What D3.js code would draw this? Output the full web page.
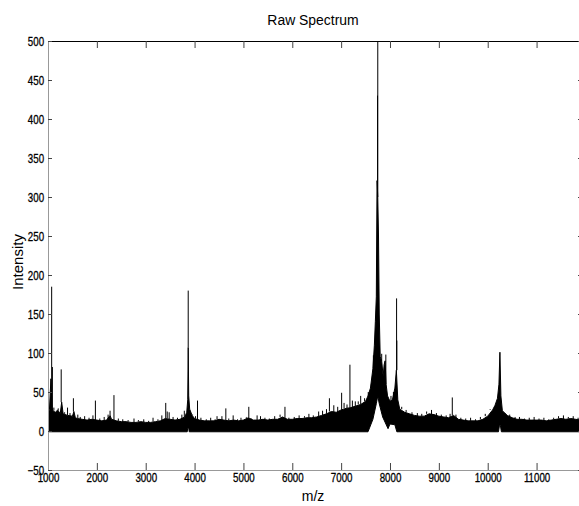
<!DOCTYPE html>
<html>
<head>
<meta charset="utf-8">
<script src="https://cdn.jsdelivr.net/npm/d3@7"></script>
<style>
    body { margin: 0; background: white; }
    svg { display: block; }
</style>
</head>
<body>
<div id="main"></div>
<script>
const ctx = {
    width : 579,
    height : 506,
    plotLeft : 48,
    plotRight : 582,
    plotTop : 41,
    plotBottom : 470,
    font : "'Liberation Sans', Arial, sans-serif",
    tickSquash : 0.78
};

// x and y limits of the axes, and the tick labels
const xDomain = [1000, 11930];
const yDomain = [-50, 500];
const xTicks = [1000, 2000, 3000, 4000, 5000, 6000, 7000, 8000, 9000, 10000, 11000];
const yTicks = [-50, 0, 50, 100, 150, 200, 250, 300, 350, 400, 450, 500];

// upper edge of the dense noise band (m/z, intensity)
const bandTopMz = [1000, 1030, 1060, 1080, 1100, 1150, 1200, 1250, 1280, 1310, 1400, 1500, 1530, 1560, 1600,
    1700, 1800, 1900, 2000, 2100, 2200, 2270, 2300, 2400, 2500, 2600, 2700, 2800, 2900, 3000, 3100, 3200,
    3300, 3400, 3500, 3600, 3700, 3800, 3840, 3860, 3870, 3880, 3900, 3950, 4000, 4100, 4200, 4300, 4400,
    4500, 4600, 4700, 4800, 4900, 5000, 5100, 5200, 5300, 5400, 5500, 5600, 5700, 5800, 5900, 6000, 6100,
    6200, 6300, 6400, 6500, 6600, 6700, 6800, 6900, 7000, 7100, 7200, 7300, 7400, 7500, 7550, 7600, 7650,
    7680, 7700, 7720, 7735, 7750, 7765, 7780, 7800, 7830, 7860, 7880, 7900, 7920, 7950, 8000, 8050, 8100,
    8130, 8160, 8200, 8300, 8400, 8500, 8600, 8700, 8800, 8900, 9000, 9100, 9200, 9300, 9400, 9500, 9600,
    9700, 9800, 9900, 10000, 10100, 10150, 10200, 10230, 10250, 10270, 10300, 10400, 10500, 10600, 10700,
    10800, 10900, 11000, 11100, 11200, 11300, 11400, 11500, 11600, 11700, 11800, 11900, 11950];
const bandTopI = [20, 28, 67, 30, 26, 24, 27, 22, 37, 22, 20, 19, 25, 17, 16,
    15, 14, 15, 14, 13, 14, 20, 15, 13, 12, 12, 11, 11, 12, 11, 11, 12,
    13, 16, 15, 14, 15, 18, 24, 40, 107, 45, 28, 20, 16, 14, 13, 13, 13,
    15, 14, 13, 14, 13, 14, 17, 14, 14, 15, 14, 15, 15, 18, 15, 15, 16,
    16, 17, 17, 18, 20, 22, 25, 24, 27, 29, 30, 32, 34, 38, 45, 55, 80,
    110, 140, 172, 321, 300, 250, 150, 95, 90, 70, 85, 90, 60, 45, 38, 40, 55,
    78, 40, 28, 24, 22, 20, 19, 19, 22, 21, 19, 18, 17, 20, 15, 14, 13,
    13, 13, 15, 19, 27, 33, 42, 60, 101, 45, 26, 20, 17, 15, 15,
    14, 14, 14, 14, 13, 14, 15, 16, 15, 16, 15, 14, 14];

// lower edge of the band, lifted under the big peaks
const bandBottomMz = [1000, 3850, 3860, 3880, 3890, 7550, 7650, 7720, 7750, 7780, 7850, 7960, 8000, 8100,
    8140, 10220, 10240, 10260, 10280, 11950];
const bandBottomI = [-1, -1, 4, 4, -1, -1, 15, 35, 45, 35, 18, 3, 9, 8,
    -1, -1, 7, 7, -1, -1];

// thin spikes standing above the band
const spikeMz = [1050, 1075, 1090, 1180, 1270, 1400, 1520, 1970, 2270, 2350, 3410, 3440, 3870, 4060, 4460,
    4640, 5110, 5280, 5850, 6760, 7010, 7180, 7290, 7440, 7555, 7660, 7745, 7750, 7830, 7915, 8135, 8140,
    9275, 10250];
const spikeI = [60, 185, 82, 27, 79, 30, 42, 39, 26, 46, 36, 25, 180, 39, 19,
    29, 31, 20, 31, 42, 49, 85, 38, 33, 50, 97, 430, 510, 99, 98, 170, 116,
    43, 101];

// short hairs on top of the band that give it its ragged edge
const hairMz = [1120, 1210, 1340, 1450, 1610, 1660, 1750, 1840, 1920, 2060, 2150, 2230, 2440, 2530, 2640,
    2760, 2850, 2960, 3060, 3150, 3250, 3330, 3480, 3560, 3650, 3740, 3790, 3960, 4020, 4130, 4240, 4330,
    4420, 4560, 4700, 4790, 4880, 4950, 5060, 5160, 5350, 5440, 5530, 5640, 5750, 5930, 6040, 6140, 6250,
    6340, 6430, 6540, 6620, 6700, 6850, 6930, 7060, 7120, 7230, 7350, 7400, 7480, 7620, 8020, 8070, 8240,
    8330, 8450, 8560, 8650, 8750, 8850, 8950, 9050, 9150, 9230, 9350, 9450, 9550, 9650, 9750, 9850, 9950,
    10050, 10350, 10450, 10560, 10650, 10750, 10850, 10950, 11050, 11150, 11250, 11350, 11450, 11550,
    11650, 11750, 11850];
const hairI = [30, 29, 24, 23, 21, 18, 19, 17, 20, 16, 18, 21, 16, 15, 14,
    16, 14, 15, 13, 17, 15, 20, 24, 18, 17, 21, 26, 21, 19, 17, 15, 17,
    15, 19, 16, 20, 15, 17, 18, 16, 19, 17, 16, 19, 21, 17, 18, 20, 19,
    22, 20, 25, 26, 28, 33, 31, 36, 34, 39, 38, 45, 42, 60, 45, 50, 31,
    27, 24, 23, 22, 25, 27, 23, 21, 20, 22, 21, 17, 16, 17, 15, 18, 22,
    28, 23, 21, 18, 18, 16, 17, 18, 16, 17, 15, 17, 19, 20,
    18, 19, 17];

function createViz(){
    let svg = d3.select("#main").append("svg")
        .attr("width", ctx.width)
        .attr("height", ctx.height);

    ctx.x = d3.scaleLinear().domain(xDomain).range([ctx.plotLeft, ctx.plotRight]);
    ctx.y = d3.scaleLinear().domain(yDomain).range([ctx.plotBottom, ctx.plotTop]);

    svg.append("defs").append("clipPath").attr("id", "plotClip")
        .append("rect")
        .attr("x", ctx.plotLeft)
        .attr("y", ctx.plotTop)
        .attr("width", ctx.plotRight - ctx.plotLeft)
        .attr("height", ctx.plotBottom - ctx.plotTop);

    drawSpectrum(svg);
    drawAxes(svg);
    drawLabels(svg);
}

// band top value at the nearest sampled m/z, so spikes start from the band, not from 0
function bandBase(mz){
    let i = d3.bisector(d => d).center(bandTopMz, mz);
    return bandTopI[i];
}

function drawSpectrum(svg){
    let g = svg.append("g").attr("clip-path", "url(#plotClip)");
    let top = bandTopMz.map((m, i) => [m, bandTopI[i]]);
    let bottom = bandBottomMz.map((m, i) => [m, bandBottomI[i]]).reverse();
    let line = d3.line().x(d => ctx.x(d[0])).y(d => ctx.y(d[1]));

    g.append("path")
        .attr("d", line(top.concat(bottom)) + "Z")
        .attr("fill", "black")
        .attr("stroke", "black")
        .attr("stroke-width", 1);

    let spikes = spikeMz.map((m, i) => [m, spikeI[i]])
        .concat(hairMz.map((m, i) => [m, hairI[i]]));
    g.selectAll("line.spike")
        .data(spikes)
        .enter()
        .append("line")
        .attr("class", "spike")
        .attr("x1", d => ctx.x(d[0]))
        .attr("x2", d => ctx.x(d[0]))
        .attr("y1", d => ctx.y(Math.min(bandBase(d[0]), d[1])))
        .attr("y2", d => ctx.y(d[1]))
        .attr("stroke", "black")
        .attr("stroke-width", 1);
}

function styleAxis(g, domainColor){
    g.select(".domain").attr("stroke", domainColor);
    g.selectAll(".tick line").attr("stroke", "#444");
    g.selectAll(".tick text")
        .attr("fill", "black")
        .attr("stroke", "black")
        .attr("stroke-width", 0.3)
        .attr("transform", "scale(" + ctx.tickSquash + ",1)")
        .style("font-family", ctx.font)
        .style("font-size", "12.5px");
}

function drawAxes(svg){
    let fmt = d3.format("d");
    let bottomG = svg.append("g")
        .attr("transform", "translate(0," + ctx.plotBottom + ")")
        .call(d3.axisBottom(ctx.x).tickValues(xTicks).tickFormat(fmt).tickSizeInner(-7).tickSizeOuter(0).tickPadding(3));
    styleAxis(bottomG, "#999");

    let topG = svg.append("g")
        .attr("transform", "translate(0," + ctx.plotTop + ")")
        .call(d3.axisTop(ctx.x).tickValues(xTicks).tickSizeInner(-7).tickSizeOuter(0).tickFormat(""));
    styleAxis(topG, "black");

    let leftG = svg.append("g")
        .attr("transform", "translate(" + ctx.plotLeft + ",0)")
        .call(d3.axisLeft(ctx.y).tickValues(yTicks).tickFormat(fmt).tickSizeInner(-4).tickSizeOuter(0).tickPadding(5));
    styleAxis(leftG, "#999");

    let rightG = svg.append("g")
        .attr("transform", "translate(" + ctx.plotRight + ",0)")
        .call(d3.axisRight(ctx.y).tickValues(yTicks).tickSizeInner(-4).tickSizeOuter(0).tickFormat(""));
    styleAxis(rightG, "black");
}

function drawLabels(svg){
    svg.append("text")
        .attr("transform", "translate(313,25) scale(0.93,1)")
        .attr("text-anchor", "middle")
        .style("font-family", ctx.font)
        .style("font-size", "15px")
        .text("Raw Spectrum");

    svg.append("text")
        .attr("x", 313)
        .attr("y", 501)
        .attr("text-anchor", "middle")
        .style("font-family", ctx.font)
        .style("font-size", "14px")
        .text("m/z");

    svg.append("text")
        .attr("transform", "translate(23,262) rotate(-90)")
        .attr("text-anchor", "middle")
        .style("font-family", ctx.font)
        .style("font-size", "15px")
        .text("Intensity");
}

createViz();
</script>
</body>
</html>
